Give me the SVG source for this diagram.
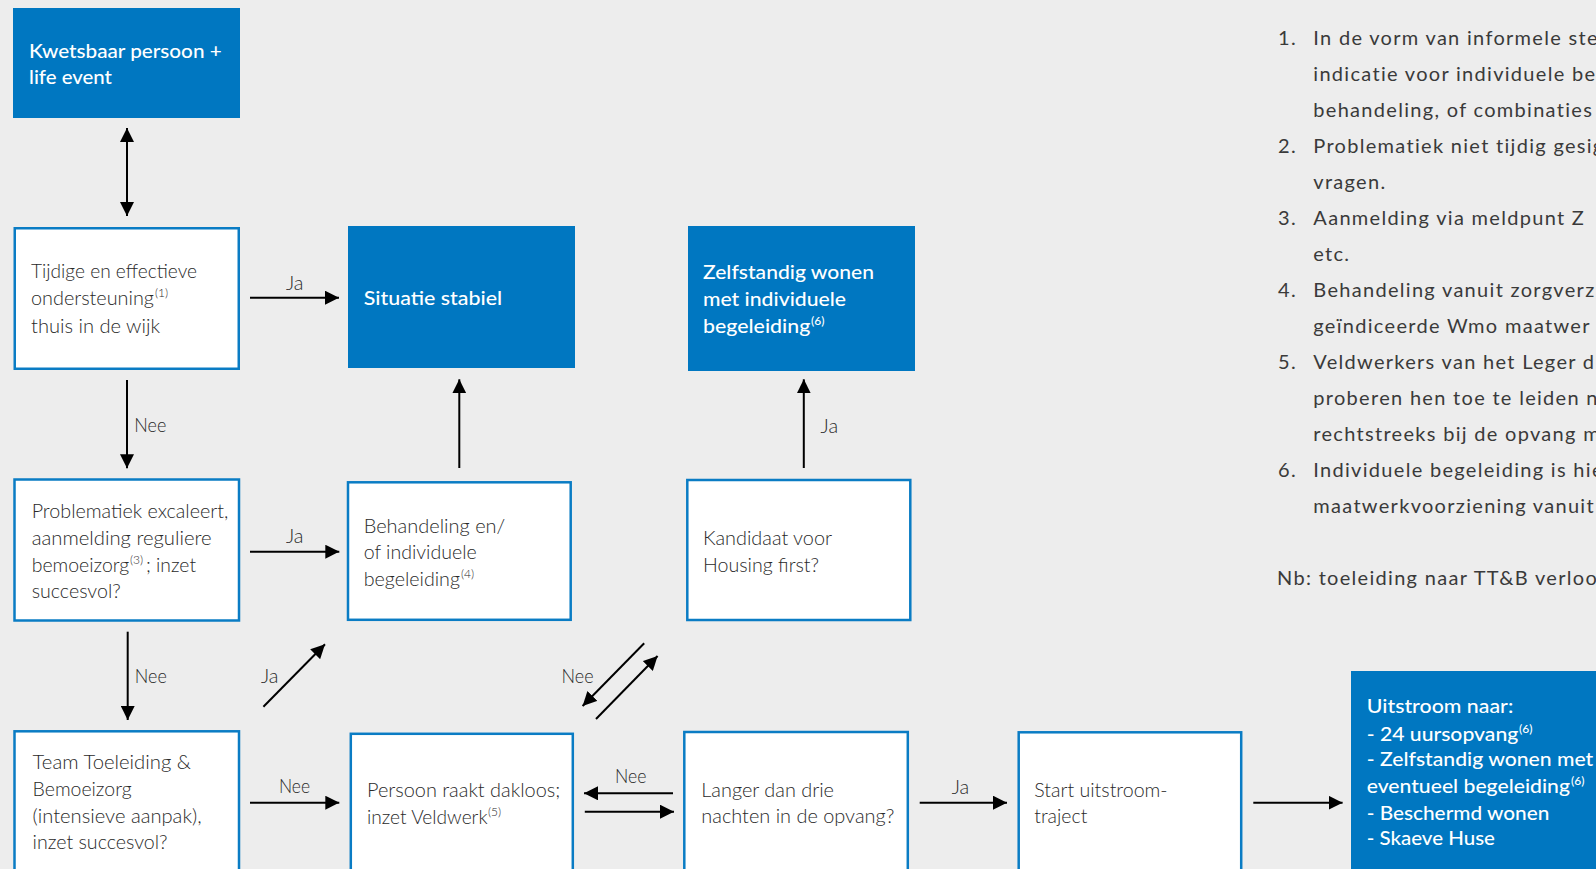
<svg xmlns="http://www.w3.org/2000/svg" width="1596" height="869" viewBox="0 0 1596 869">
<defs>
<style>
.bg{fill:#ededed}
.filled{fill:#0077c1}
.box{fill:#ffffff;stroke:#0a7cc4;stroke-width:2.5}
.t{font-family:Lato,"Open Sans","Liberation Sans",sans-serif;font-size:20px;font-weight:300;fill:#2a2a2a}
.w{font-family:Lato,"Open Sans","Liberation Sans",sans-serif;font-size:20px;font-weight:500;fill:#ffffff}
.sup{font-size:12px}
.c{stroke:#000;stroke-width:2;fill:none}
.note{font-family:Lato,"Open Sans","Liberation Sans",sans-serif;font-size:20px;font-weight:400;letter-spacing:1.3px;fill:#3a3a3a}
</style>
<marker id="ah" viewBox="0 0 14 14" refX="14" refY="7" markerWidth="14" markerHeight="14" markerUnits="userSpaceOnUse" orient="auto-start-reverse">
<path d="M0,0 L14,7 L0,14 z" fill="#000"/>
</marker>
</defs>
<rect class="bg" x="0" y="0" width="1596" height="869"/>

<g id="n1">
<rect class="filled" x="13" y="8" width="227" height="110"/>
<text class="w" x="29" y="58.3" textLength="192.7" lengthAdjust="spacingAndGlyphs">Kwetsbaar persoon +</text>
<text class="w" x="29" y="84" textLength="83" lengthAdjust="spacingAndGlyphs">life event</text>
</g>

<g id="n2">
<rect class="box" x="14.75" y="228.25" width="224" height="140.5"/>
<text class="t" x="31" y="278.3" textLength="166" lengthAdjust="spacingAndGlyphs">Tijdige en effectieve</text>
<text class="t" x="31" y="305"><tspan textLength="123" lengthAdjust="spacingAndGlyphs">ondersteuning</tspan><tspan class="sup" x="155" y="297">(1)</tspan></text>
<text class="t" x="31" y="332.7" textLength="129" lengthAdjust="spacingAndGlyphs">thuis in de wijk</text>
</g>

<g id="n3">
<rect class="filled" x="348" y="226" width="227" height="142"/>
<text class="w" x="363.7" y="305" textLength="138.5" lengthAdjust="spacingAndGlyphs">Situatie stabiel</text>
</g>

<g id="n4">
<rect class="filled" x="688" y="226" width="227" height="145"/>
<text class="w" x="703" y="279" textLength="171" lengthAdjust="spacingAndGlyphs">Zelfstandig wonen</text>
<text class="w" x="703" y="306" textLength="143" lengthAdjust="spacingAndGlyphs">met individuele</text>
<text class="w" x="703" y="332.7"><tspan textLength="107.3" lengthAdjust="spacingAndGlyphs">begeleiding</tspan><tspan class="sup" x="811" y="324.7">(6)</tspan></text>
</g>

<g id="n5">
<rect class="box" x="14.5" y="479.5" width="224.5" height="141"/>
<text class="t" x="31.7" y="518.3" textLength="196.6" lengthAdjust="spacingAndGlyphs">Problematiek excaleert,</text>
<text class="t" x="31.7" y="545" textLength="180" lengthAdjust="spacingAndGlyphs">aanmelding reguliere</text>
<text class="t" x="31.7" y="571.7"><tspan textLength="97.6" lengthAdjust="spacingAndGlyphs">bemoeizorg</tspan><tspan class="sup" x="130" y="563.7">(3)</tspan><tspan x="146" y="571.7" textLength="50" lengthAdjust="spacingAndGlyphs">; inzet</tspan></text>
<text class="t" x="31.7" y="597.7" textLength="89" lengthAdjust="spacingAndGlyphs">succesvol?</text>
</g>

<g id="n6">
<rect class="box" x="348" y="482.3" width="222.7" height="137.5"/>
<text class="t" x="363.7" y="533.3" textLength="141.6" lengthAdjust="spacingAndGlyphs">Behandeling en/</text>
<text class="t" x="363.7" y="559.3" textLength="113" lengthAdjust="spacingAndGlyphs">of individuele</text>
<text class="t" x="363.7" y="586"><tspan textLength="96.3" lengthAdjust="spacingAndGlyphs">begeleiding</tspan><tspan class="sup" x="461" y="578">(4)</tspan></text>
</g>

<g id="n7">
<rect class="box" x="687.3" y="480" width="223" height="140"/>
<text class="t" x="703" y="545" textLength="129" lengthAdjust="spacingAndGlyphs">Kandidaat voor</text>
<text class="t" x="703" y="571.7" textLength="116" lengthAdjust="spacingAndGlyphs">Housing first?</text>
</g>

<g id="n8">
<rect class="box" x="14.5" y="731.3" width="224.5" height="160"/>
<text class="t" x="32.6" y="769.3" textLength="158.4" lengthAdjust="spacingAndGlyphs">Team Toeleiding &amp;</text>
<text class="t" x="32.6" y="796" textLength="99" lengthAdjust="spacingAndGlyphs">Bemoeizorg</text>
<text class="t" x="32.6" y="822.7" textLength="169" lengthAdjust="spacingAndGlyphs">(intensieve aanpak),</text>
<text class="t" x="32.6" y="849.3" textLength="135" lengthAdjust="spacingAndGlyphs">inzet succesvol?</text>
</g>

<g id="n9">
<rect class="box" x="350.8" y="733.8" width="222" height="160"/>
<text class="t" x="367" y="796.7" textLength="193.3" lengthAdjust="spacingAndGlyphs">Persoon raakt dakloos;</text>
<text class="t" x="367" y="824"><tspan textLength="120.5" lengthAdjust="spacingAndGlyphs">inzet Veldwerk</tspan><tspan class="sup" x="488" y="816">(5)</tspan></text>
</g>

<g id="n10">
<rect class="box" x="684.3" y="732" width="223.5" height="160"/>
<text class="t" x="701.3" y="796.7" textLength="132.7" lengthAdjust="spacingAndGlyphs">Langer dan drie</text>
<text class="t" x="701.3" y="823.3" textLength="193" lengthAdjust="spacingAndGlyphs">nachten in de opvang?</text>
</g>

<g id="n11">
<rect class="box" x="1018.7" y="732.3" width="222.5" height="160"/>
<text class="t" x="1034.3" y="796.7" textLength="133.3" lengthAdjust="spacingAndGlyphs">Start uitstroom-</text>
<text class="t" x="1034.3" y="823.3" textLength="53" lengthAdjust="spacingAndGlyphs">traject</text>
</g>

<g id="n12">
<rect class="filled" x="1351" y="671" width="260" height="220"/>
<text class="w" x="1366.7" y="713.3" textLength="146.6" lengthAdjust="spacingAndGlyphs">Uitstroom naar:</text>
<text class="w" x="1366.7" y="741"><tspan textLength="151.6" lengthAdjust="spacingAndGlyphs">- 24 uursopvang</tspan><tspan class="sup" x="1519" y="733">(6)</tspan></text>
<text class="w" x="1366.7" y="766" textLength="226.6" lengthAdjust="spacingAndGlyphs">- Zelfstandig wonen met</text>
<text class="w" x="1366.7" y="792.7"><tspan textLength="203.3" lengthAdjust="spacingAndGlyphs">eventueel begeleiding</tspan><tspan class="sup" x="1571" y="784.7">(6)</tspan></text>
<text class="w" x="1366.7" y="820" textLength="182.6" lengthAdjust="spacingAndGlyphs">- Beschermd wonen</text>
<text class="w" x="1366.7" y="845" textLength="128.3" lengthAdjust="spacingAndGlyphs">- Skaeve Huse</text>
</g>

<g id="connectors">
<path class="c" d="M127,128 L127,216" marker-start="url(#ah)" marker-end="url(#ah)"/>
<path class="c" d="M250,297.7 L339,297.7" marker-end="url(#ah)"/>
<text class="t" x="286" y="290">Ja</text>
<path class="c" d="M127,380 L127,468.3" marker-end="url(#ah)"/>
<text class="t" x="134.3" y="431.7" textLength="32" lengthAdjust="spacingAndGlyphs">Nee</text>
<path class="c" d="M250,551.7 L339.3,551.7" marker-end="url(#ah)"/>
<text class="t" x="286" y="543.3">Ja</text>
<path class="c" d="M459.3,468 L459.3,379.3" marker-end="url(#ah)"/>
<path class="c" d="M803.8,468 L803.8,379.3" marker-end="url(#ah)"/>
<text class="t" x="820.6" y="432.7">Ja</text>
<path class="c" d="M127.7,631.7 L127.7,720" marker-end="url(#ah)"/>
<text class="t" x="134.8" y="683.3" textLength="32" lengthAdjust="spacingAndGlyphs">Nee</text>
<path class="c" d="M263.4,706.7 L325,644.3" marker-end="url(#ah)"/>
<text class="t" x="261" y="683">Ja</text>
<path class="c" d="M644.2,643.3 L582.6,706" marker-end="url(#ah)"/>
<path class="c" d="M596,719 L657.6,656" marker-end="url(#ah)"/>
<text class="t" x="561.6" y="683.3" textLength="32" lengthAdjust="spacingAndGlyphs">Nee</text>
<path class="c" d="M250,802.7 L339.3,802.7" marker-end="url(#ah)"/>
<text class="t" x="279" y="793.3" textLength="31" lengthAdjust="spacingAndGlyphs">Nee</text>
<path class="c" d="M673,793.3 L584,793.3" marker-end="url(#ah)"/>
<text class="t" x="615" y="782.7" textLength="31.4" lengthAdjust="spacingAndGlyphs">Nee</text>
<path class="c" d="M584.8,811.7 L674,811.7" marker-end="url(#ah)"/>
<path class="c" d="M919.7,802.7 L1007,802.7" marker-end="url(#ah)"/>
<text class="t" x="951.7" y="794">Ja</text>
<path class="c" d="M1253.3,802.7 L1342.6,802.7" marker-end="url(#ah)"/>
</g>

<g id="notes">
<text class="note" x="1278" y="45">1.</text>
<text class="note" x="1313.3" y="45">In de vorm van informele ste</text>
<text class="note" x="1313.3" y="81">indicatie voor individuele be</text>
<text class="note" x="1313.3" y="117">behandeling, of combinaties</text>
<text class="note" x="1278" y="153">2.</text>
<text class="note" x="1313.3" y="153">Problematiek niet tijdig gesig</text>
<text class="note" x="1313.3" y="189">vragen.</text>
<text class="note" x="1278" y="225">3.</text>
<text class="note" x="1313.3" y="225">Aanmelding via meldpunt Z</text>
<text class="note" x="1313.3" y="261">etc.</text>
<text class="note" x="1278" y="297">4.</text>
<text class="note" x="1313.3" y="297">Behandeling vanuit zorgverz</text>
<text class="note" x="1313.3" y="333">geïndiceerde Wmo maatwer</text>
<text class="note" x="1278" y="369">5.</text>
<text class="note" x="1313.3" y="369">Veldwerkers van het Leger d</text>
<text class="note" x="1313.3" y="405">proberen hen toe te leiden n</text>
<text class="note" x="1313.3" y="441">rechtstreeks bij de opvang m</text>
<text class="note" x="1278" y="477">6.</text>
<text class="note" x="1313.3" y="477">Individuele begeleiding is hie</text>
<text class="note" x="1313.3" y="513">maatwerkvoorziening vanuit</text>
<text class="note" x="1277" y="585">Nb: toeleiding naar TT&amp;B verloo</text>
</g>
</svg>
